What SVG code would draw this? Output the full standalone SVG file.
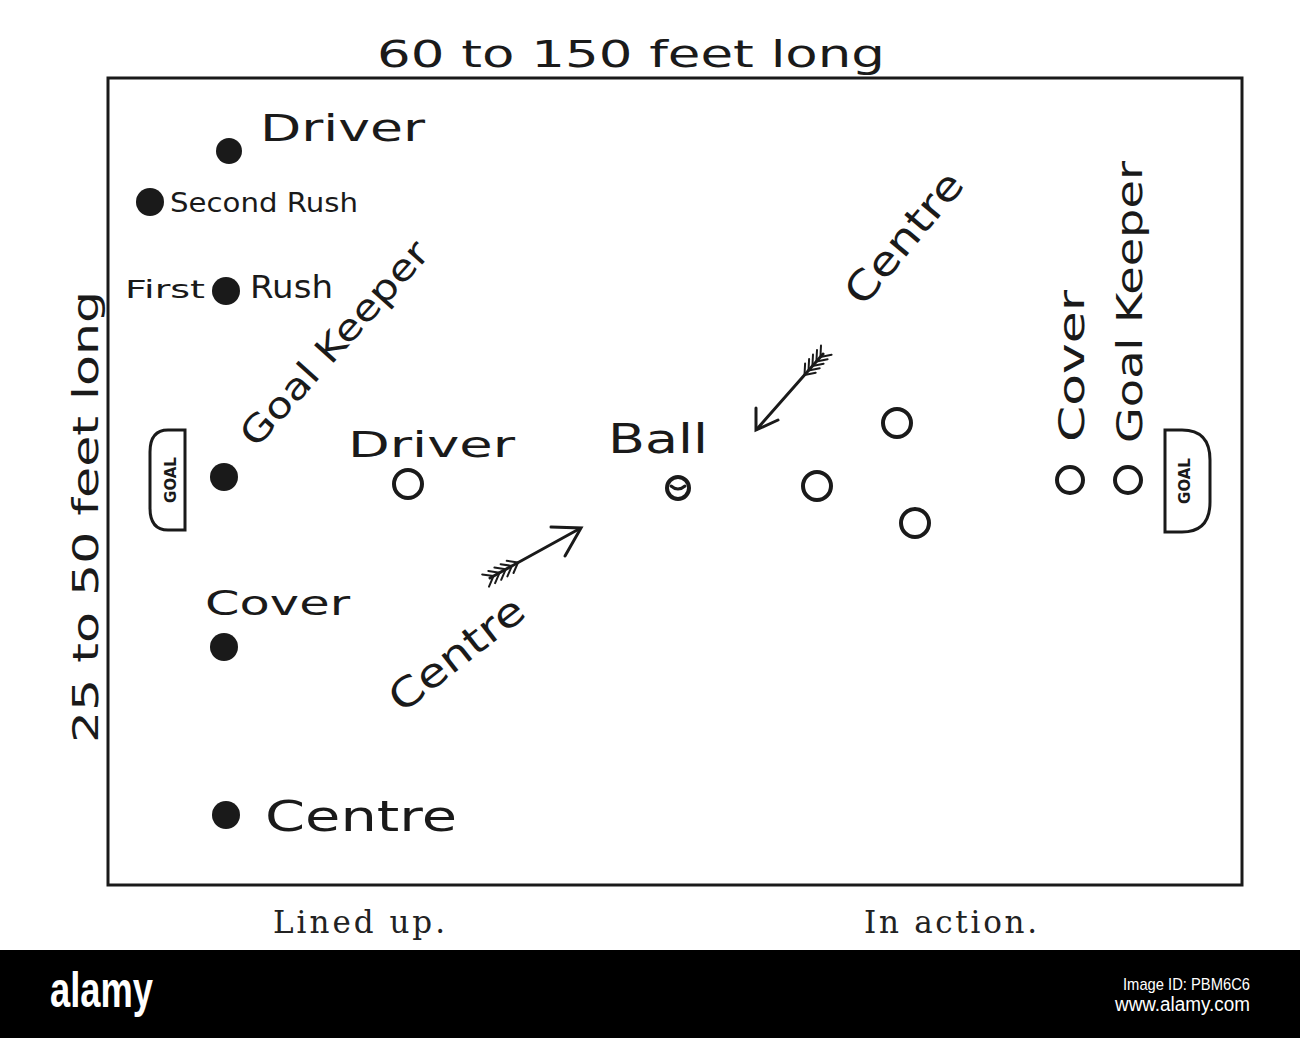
<svg xmlns="http://www.w3.org/2000/svg" width="1300" height="1038" viewBox="0 0 1300 1038">
<style>
.h{font-family:"DejaVu Sans","Liberation Sans",sans-serif;fill:#1a1a1a;}
.dot{fill:#1a1a1a;}
.ring{fill:none;stroke:#1a1a1a;stroke-width:4;}
.ln{fill:none;stroke:#1a1a1a;stroke-width:3;stroke-linecap:round;}
.fl{fill:none;stroke:#1a1a1a;stroke-width:2;stroke-linecap:round;}
.cap{font-family:"DejaVu Serif","Liberation Serif",serif;fill:#222;font-size:31px;}
</style>
<rect width="1300" height="1038" fill="#fff"/>
<text class="h" x="377" y="67" font-size="38" textLength="508" lengthAdjust="spacingAndGlyphs">60 to 150 feet long</text>
<rect x="108" y="78" width="1134" height="807" class="ln"/>
<text class="h" transform="translate(98,743) rotate(-90)" font-size="36" textLength="452" lengthAdjust="spacingAndGlyphs">25 to 50 feet long</text>
<g id="goal-left">
<path d="M185,430 H168 Q150,430 150,452 V508 Q150,530 168,530 H185 Z" class="ln"/>
<text class="h" transform="translate(176,480) rotate(-90)" font-size="15" font-weight="bold" text-anchor="middle">GOAL</text>
</g>
<g id="goal-right">
<path d="M1165,430 H1182 Q1210,430 1210,460 V502 Q1210,532 1182,532 H1165 Z" class="ln"/>
<text class="h" transform="translate(1190,481) rotate(-90)" font-size="15" font-weight="bold" text-anchor="middle">GOAL</text>
</g>
<g id="left-driver"><circle class="dot" cx="229" cy="151" r="13"/><text class="h" x="260" y="141" font-size="38" textLength="165" lengthAdjust="spacingAndGlyphs">Driver</text></g>
<g id="left-second-rush"><circle class="dot" cx="150" cy="202" r="14"/><text class="h" x="170" y="212" font-size="26" textLength="188" lengthAdjust="spacingAndGlyphs">Second Rush</text></g>
<g id="left-first-rush"><text class="h" x="125" y="298" font-size="24" textLength="80" lengthAdjust="spacingAndGlyphs">First</text><circle class="dot" cx="226" cy="291" r="14"/><text class="h" x="250" y="298" font-size="32" textLength="83" lengthAdjust="spacingAndGlyphs">Rush</text></g>
<g id="left-goal-keeper"><circle class="dot" cx="224" cy="477" r="14"/><text class="h" transform="translate(256,449) rotate(-48)" font-size="36" textLength="262" lengthAdjust="spacingAndGlyphs">Goal Keeper</text></g>
<g id="left-cover"><circle class="dot" cx="224" cy="647" r="14"/><text class="h" x="205" y="615" font-size="34" textLength="145" lengthAdjust="spacingAndGlyphs">Cover</text></g>
<g id="left-centre"><circle class="dot" cx="226" cy="815" r="14"/><text class="h" x="265" y="831" font-size="42" textLength="192" lengthAdjust="spacingAndGlyphs">Centre</text></g>
<g id="right-driver"><text class="h" x="348" y="457" font-size="36" textLength="167" lengthAdjust="spacingAndGlyphs">Driver</text><circle class="ring" cx="408" cy="484" r="14"/></g>
<g id="ball"><text class="h" x="608" y="453" font-size="40" textLength="100" lengthAdjust="spacingAndGlyphs">Ball</text><circle class="ring" cx="678" cy="488" r="11" stroke-width="3.5"/><path d="M671,486 Q678,492 685,486" class="ln" stroke-width="2"/></g>
<g id="centre-lower"><text class="h" transform="translate(402,714) rotate(-38)" font-size="40" textLength="160" lengthAdjust="spacingAndGlyphs">Centre</text></g>
<g id="centre-upper"><text class="h" transform="translate(863,308) rotate(-50)" font-size="40" textLength="160" lengthAdjust="spacingAndGlyphs">Centre</text></g>
<g id="players">
<circle class="ring" cx="897" cy="423" r="14"/>
<circle class="ring" cx="817" cy="486" r="14"/>
<circle class="ring" cx="915" cy="523" r="14"/>
</g>
<g id="right-cover"><circle class="ring" cx="1070" cy="480" r="13"/><text class="h" transform="translate(1084,442) rotate(-90)" font-size="36" textLength="152" lengthAdjust="spacingAndGlyphs">Cover</text></g>
<g id="right-goal-keeper"><circle class="ring" cx="1128" cy="480" r="13"/><text class="h" transform="translate(1142,443) rotate(-90)" font-size="36" textLength="282" lengthAdjust="spacingAndGlyphs">Goal Keeper</text></g>
<g id="connectors">
<g id="arrow-lower">
<path class="ln" d="M490,578 L579,529"/>
<path class="ln" d="M551,527 L581,528 L565,556"/>
<path class="fl" d="M493.5,576.1 L489,586.6 M493.5,576.1 L482.2,574.4 M499.6,572.7 L495.1,583.2 M499.6,572.7 L488.3,571 M505.7,569.3 L501.2,579.8 M505.7,569.3 L494.4,567.6 M511.9,565.9 L507.4,576.4 M511.9,565.9 L500.6,564.2 M518,562.5 L513.5,573 M518,562.5 L506.7,560.8"/>
</g>
<g id="arrow-upper">
<path class="ln" d="M823,354 L757,429"/>
<path class="ln" d="M756,408 L756,430 L778,420"/>
<path class="fl" d="M820.4,357 L831.6,354.8 M820.4,357 L821,345.6 M816.4,361.5 L827.6,359.3 M816.4,361.5 L817,350.1 M812.4,366 L823.6,363.8 M812.4,366 L813,354.6 M808.5,370.5 L819.7,368.3 M808.5,370.5 L809.1,359.1 M804.5,375 L815.7,372.8 M804.5,375 L805.1,363.6"/>
</g>
</g>
<text class="cap" x="273" y="933" textLength="172" lengthAdjust="spacing">Lined up.</text>
<text class="cap" x="864" y="933" textLength="173" lengthAdjust="spacing">In action.</text>
<g id="banner">
<rect x="0" y="950" width="1300" height="88" fill="#000"/>
<text x="50" y="1007" font-family="Liberation Sans Narrow,Liberation Sans,sans-serif" font-size="50" font-weight="bold" fill="#fff" textLength="103" lengthAdjust="spacingAndGlyphs">alamy</text>
<text x="1123" y="990" font-family="Liberation Sans Narrow,Liberation Sans,sans-serif" font-size="17" fill="#fff" textLength="127" lengthAdjust="spacingAndGlyphs">Image ID: PBM6C6</text>
<text x="1115" y="1011" font-family="Liberation Sans Narrow,Liberation Sans,sans-serif" font-size="20" fill="#fff" textLength="135" lengthAdjust="spacingAndGlyphs">www.alamy.com</text>
</g>
</svg>
